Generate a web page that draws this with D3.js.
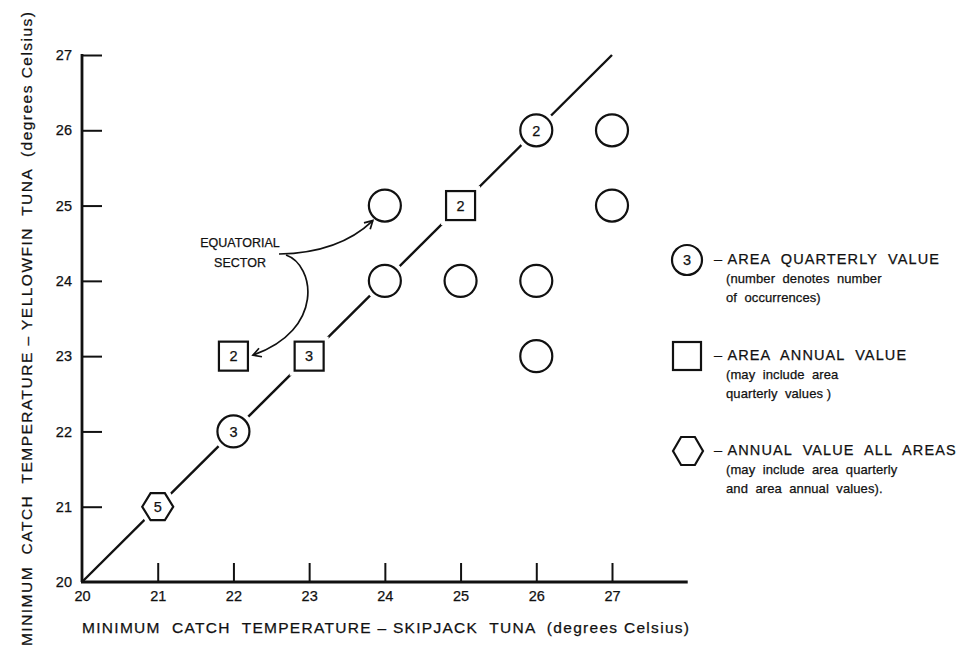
<!DOCTYPE html>
<html>
<head>
<meta charset="utf-8">
<script src="https://cdn.jsdelivr.net/npm/d3@7"></script>
<style>
  html, body { margin: 0; padding: 0; background: #fff; }
  svg { display: block; }
  text { font-family: "Liberation Sans", Arial, sans-serif; fill: #111; stroke: #111; stroke-width: 0.25px; }
</style>
</head>
<body>
<svg id="chart" width="965" height="651"></svg>
<script>
// ---- data ----
const xTicks = [20, 21, 22, 23, 24, 25, 26, 27];
const yTicks = [20, 21, 22, 23, 24, 25, 26, 27];
const diagonalX = [20, 27];
const diagonalY = [20, 27];

// area quarterly values (circles)
const circleX = [22, 24, 24, 25, 26, 26, 26, 27, 27];
const circleY = [22, 24, 25, 24, 24, 23, 26, 26, 25];
const circleLabels = ["3", "", "", "", "", "", "2", "", ""];

// area annual values (squares)
const squareX = [22, 23, 25];
const squareY = [23, 23, 25];
const squareLabels = ["2", "3", "2"];

// annual value all areas (hexagons)
const hexX = [21];
const hexY = [21];
const hexLabels = ["5"];

const xAxisTitle = "MINIMUM  CATCH  TEMPERATURE \u2013 SKIPJACK  TUNA  (degrees Celsius)";
const yAxisTitle = "MINIMUM  CATCH  TEMPERATURE \u2013 YELLOWFIN  TUNA  (degrees Celsius)";
const annotationLines = ["EQUATORIAL", "SECTOR"];
const legendItems = [
  { shape: "circle", label: "3", lines: ["\u2013 AREA  QUARTERLY  VALUE", "(number  denotes  number", "of  occurrences)"] },
  { shape: "square", label: "", lines: ["\u2013 AREA  ANNUAL  VALUE", "(may  include  area", "quarterly  values )"] },
  { shape: "hexagon", label: "", lines: ["\u2013 ANNUAL  VALUE  ALL  AREAS", "(may  include  area  quarterly", "and  area  annual  values)."] }
];

// ---- layout ----
const svg = d3.select("#chart");
const x = d3.scaleLinear().domain([20, 27]).range([82, 612]);
const y = d3.scaleLinear().domain([20, 27]).range([582, 55]);
const xAxisEnd = 28;

const ink = "#111";
const R = 16;      // circle radius
const SQ = 29;       // square side
const HW = 31, HH = 27; // hexagon width / height

function hexPath(cx, cy, w, h) {
  const q = w * 0.27;
  return d3.line()([
    [cx - w / 2, cy], [cx - w / 2 + q, cy - h / 2], [cx + w / 2 - q, cy - h / 2],
    [cx + w / 2, cy], [cx + w / 2 - q, cy + h / 2], [cx - w / 2 + q, cy + h / 2]
  ]) + "Z";
}

// ---- axes ----
const gx = svg.append("g").attr("transform", `translate(0,${y(20)})`)
  .call(d3.axisBottom(x).tickValues(xTicks).tickSizeInner(-19).tickSizeOuter(0).tickPadding(9)
    .tickFormat(d3.format("d")));
gx.select(".domain").remove();
gx.selectAll(".tick line").attr("stroke", ink).attr("stroke-width", 2)
  .attr("opacity", d => d === 20 ? 0 : 1);
gx.selectAll(".tick text").attr("font-size", 14.5).attr("fill", ink)
  .attr("font-family", "Liberation Sans, Arial, sans-serif");

const gy = svg.append("g").attr("transform", `translate(${x(20)},0)`)
  .call(d3.axisLeft(y).tickValues(yTicks).tickSizeInner(-20).tickSizeOuter(0).tickPadding(10)
    .tickFormat(d3.format("d")));
gy.select(".domain").remove();
gy.selectAll(".tick line").attr("stroke", ink).attr("stroke-width", 2)
  .attr("opacity", d => d === 20 ? 0 : 1);
gy.selectAll(".tick text").attr("font-size", 14.5).attr("fill", ink)
  .attr("font-family", "Liberation Sans, Arial, sans-serif");

// axis lines
svg.append("line").attr("x1", x(20) - 1).attr("x2", x(xAxisEnd)).attr("y1", y(20)).attr("y2", y(20))
  .attr("stroke", ink).attr("stroke-width", 2.8);
svg.append("line").attr("x1", x(20)).attr("x2", x(20)).attr("y1", y(20)).attr("y2", y(27) - 1)
  .attr("stroke", ink).attr("stroke-width", 2.8);

// ---- diagonal 1:1 line ----
svg.append("line")
  .attr("x1", x(diagonalX[0])).attr("y1", y(diagonalY[0]))
  .attr("x2", x(diagonalX[1])).attr("y2", y(diagonalY[1]))
  .attr("stroke", ink).attr("stroke-width", 2.4);

// ---- markers ----
const circles = circleX.map((v, i) => ({ x: v, y: circleY[i], label: circleLabels[i] }));
const squares = squareX.map((v, i) => ({ x: v, y: squareY[i], label: squareLabels[i] }));
const hexes = hexX.map((v, i) => ({ x: v, y: hexY[i], label: hexLabels[i] }));

const gm = svg.append("g");
// white halos creating gaps in the diagonal
gm.selectAll("circle.halo").data(circles).join("circle")
  .attr("cx", d => x(d.x)).attr("cy", d => y(d.y)).attr("r", R)
  .attr("fill", "#fff").attr("stroke", "#fff").attr("stroke-width", 10);
gm.selectAll("rect.halo").data(squares).join("rect")
  .attr("x", d => x(d.x) - SQ / 2).attr("y", d => y(d.y) - SQ / 2).attr("width", SQ).attr("height", SQ)
  .attr("fill", "#fff").attr("stroke", "#fff").attr("stroke-width", 10);
gm.selectAll("path.halo").data(hexes).join("path")
  .attr("d", d => hexPath(x(d.x), y(d.y), HW, HH))
  .attr("fill", "#fff").attr("stroke", "#fff").attr("stroke-width", 10);

gm.selectAll("circle.m").data(circles).join("circle").attr("class", "m")
  .attr("cx", d => x(d.x)).attr("cy", d => y(d.y)).attr("r", R)
  .attr("fill", "#fff").attr("stroke", ink).attr("stroke-width", 2.2);
gm.selectAll("rect.m").data(squares).join("rect").attr("class", "m")
  .attr("x", d => x(d.x) - SQ / 2).attr("y", d => y(d.y) - SQ / 2).attr("width", SQ).attr("height", SQ)
  .attr("fill", "#fff").attr("stroke", ink).attr("stroke-width", 2.2);
gm.selectAll("path.m").data(hexes).join("path").attr("class", "m")
  .attr("d", d => hexPath(x(d.x), y(d.y), HW, HH))
  .attr("fill", "#fff").attr("stroke", ink).attr("stroke-width", 2.2);

gm.selectAll("text.ml").data([...circles, ...squares, ...hexes].filter(d => d.label)).join("text")
  .attr("class", "ml")
  .attr("x", d => x(d.x)).attr("y", d => y(d.y)).attr("dy", "0.36em")
  .attr("text-anchor", "middle").attr("font-size", 14.5).text(d => d.label);

// ---- axis titles ----
svg.append("text").attr("x", 82).attr("y", 633)
  .attr("font-size", 15.5).attr("textLength", 607).attr("lengthAdjust", "spacing")
  .style("white-space", "pre").text(xAxisTitle);
svg.append("text").attr("transform", "translate(32,646) rotate(-90)")
  .attr("font-size", 15.5).attr("textLength", 634).attr("lengthAdjust", "spacing")
  .style("white-space", "pre").text(yAxisTitle);

// ---- annotation ----
svg.append("defs").append("marker").attr("id", "arrow")
  .attr("viewBox", "-10 -6 12 12").attr("refX", 0).attr("refY", 0)
  .attr("markerWidth", 12).attr("markerHeight", 12).attr("markerUnits", "userSpaceOnUse")
  .attr("orient", "auto")
  .append("path").attr("d", "M-8,-4.5 L0,0 L-8,4.5").attr("fill", "none")
  .attr("stroke", ink).attr("stroke-width", 1.7);

const ann = svg.append("g");
ann.selectAll("text").data(annotationLines).join("text")
  .attr("x", 240).attr("y", (d, i) => 247 + i * 20)
  .attr("text-anchor", "middle").attr("font-size", 12.5).attr("letter-spacing", 0)
  .text(d => d);

const sx = 279, sy = 254;
const t1 = [x(24) - 12, y(25) + 15];
ann.append("path")
  .attr("d", `M${sx},${sy} Q${sx + 60},${sy - 1} ${t1[0]},${t1[1]}`)
  .attr("fill", "none").attr("stroke", ink).attr("stroke-width", 1.7)
  .attr("marker-end", "url(#arrow)");
const t2 = [x(22) + SQ / 2 + 5, y(23) - 1];
ann.append("path")
  .attr("d", `M${sx + 7},${sy + 1} C${sx + 36},${sy + 11} ${sx + 46},${sy + 76} ${t2[0]},${t2[1]}`)
  .attr("fill", "none").attr("stroke", ink).attr("stroke-width", 1.7)
  .attr("marker-end", "url(#arrow)");

// ---- legend ----
const lg = svg.append("g");
const legendY = [260, 356, 451];
legendItems.forEach((it, i) => {
  const cy = legendY[i];
  const cx = 687;
  if (it.shape === "circle") {
    lg.append("circle").attr("cx", cx).attr("cy", cy).attr("r", 15)
      .attr("fill", "#fff").attr("stroke", ink).attr("stroke-width", 2.2);
  } else if (it.shape === "square") {
    lg.append("rect").attr("x", cx - 14).attr("y", cy - 14).attr("width", 28).attr("height", 28)
      .attr("fill", "#fff").attr("stroke", ink).attr("stroke-width", 2.2);
  } else {
    lg.append("path").attr("d", hexPath(cx + 1, cy, 30, 28))
      .attr("fill", "#fff").attr("stroke", ink).attr("stroke-width", 2.2);
  }
  if (it.label) {
    lg.append("text").attr("x", cx).attr("y", cy).attr("dy", "0.36em")
      .attr("text-anchor", "middle").attr("font-size", 14.5).text(it.label);
  }
  it.lines.forEach((ln, j) => {
    lg.append("text")
      .attr("x", j === 0 ? 714 : 726)
      .attr("y", cy + 4 + j * 19)
      .attr("font-size", j === 0 ? 14.5 : 13)
      .attr("letter-spacing", j === 0 ? 1.1 : 0.1)
      .style("white-space", "pre")
      .text(ln);
  });
});
</script>
</body>
</html>
